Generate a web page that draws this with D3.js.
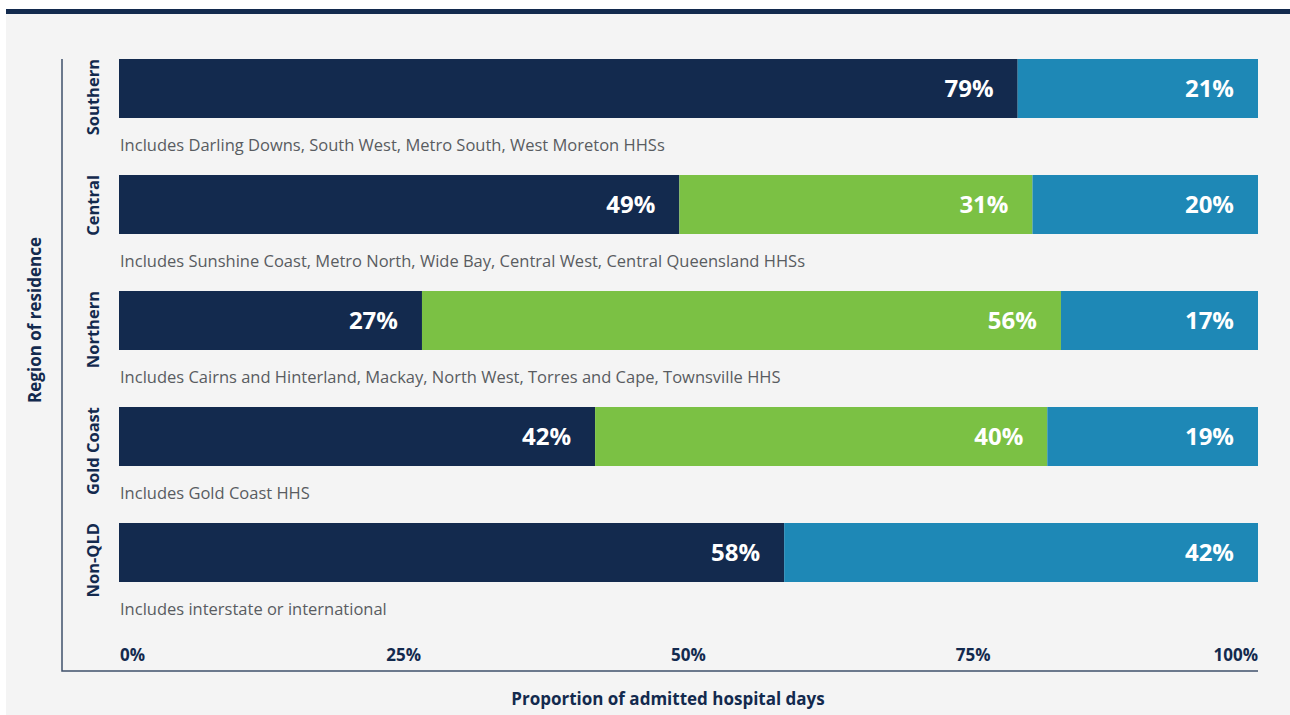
<!DOCTYPE html>
<html>
<head>
<meta charset="utf-8">
<script src="https://cdn.jsdelivr.net/npm/d3@7"></script>
<style>
  body { margin: 0; background: #ffffff; }
  svg { display: block; font-family: "Open Sans", sans-serif; }
</style>
</head>
<body>
<svg id="chart"></svg>
<script>
/* Regions and their notes. */
const regions = ["Southern", "Central", "Northern", "Gold Coast", "Non-QLD"]
const notes = [
  "Includes Darling Downs, South West, Metro South, West Moreton HHSs",
  "Includes Sunshine Coast, Metro North, Wide Bay, Central West, Central Queensland HHSs",
  "Includes Cairns and Hinterland, Mackay, North West, Torres and Cape, Townsville HHS",
  "Includes Gold Coast HHS",
  "Includes interstate or international"
]

/* Share of admitted hospital days per series (percent). */
const seriesA = [78.9, 49.2, 26.6, 41.8, 58.4]
const seriesB = [0, 31.0, 56.1, 39.7, 0]
const seriesC = [21.1, 19.8, 17.3, 18.5, 41.6]

/* Tick labels. */
const xTicks = [0, 25, 50, 75, 100]

/* Colours. */
const navy = "#132a4e"
const colors = ["#132a4e", "#7bc144", "#1e88b6"]

/* Svg size. */
const width = 1290
const height = 715

const svg = d3.select("#chart")
  .attr("width", width)
  .attr("height", height)

/* Grey panel with top border. */
svg.append("rect")
  .attr("x", 6).attr("y", 9)
  .attr("width", width - 6).attr("height", height - 9)
  .attr("fill", "#f4f4f4")

svg.append("rect")
  .attr("x", 6).attr("y", 9)
  .attr("width", width - 6).attr("height", 5)
  .attr("fill", navy)

/* Scales. */
const xScale = d3.scaleLinear()
  .domain([0, 100])
  .range([119, 1258])

const yScale = d3.scaleBand()
  .domain(regions)
  .range([59, 582])
  .paddingInner(0.4914)

/* Stack the data. */
const rows = regions.map((r, i) => ({ region: r, a: seriesA[i], b: seriesB[i], c: seriesC[i] }))
const stacked = d3.stack().keys(["a", "b", "c"])(rows)

const layers = svg.selectAll(".layer")
  .data(stacked)
  .join("g")
  .attr("class", "layer")
  .attr("fill", (d, i) => colors[i])

layers.selectAll("rect")
  .data(d => d.filter(s => s[1] - s[0] > 0))
  .join("rect")
  .attr("x", d => xScale(d[0]))
  .attr("y", d => yScale(d.data.region))
  .attr("width", d => xScale(d[1]) - xScale(d[0]))
  .attr("height", yScale.bandwidth())

/* Value labels. */
layers.selectAll("text")
  .data(d => d.filter(s => s[1] - s[0] > 0))
  .join("text")
  .attr("x", d => xScale(d[1]) - 24)
  .attr("y", d => yScale(d.data.region) + yScale.bandwidth() / 2)
  .attr("dy", "0.36em")
  .attr("text-anchor", "end")
  .attr("fill", "#ffffff")
  .attr("font-size", 24)
  .attr("font-weight", 700)
  .text(d => d3.format(".0f")(d[1] - d[0]) + "%")

/* Notes under each bar. */
svg.selectAll(".note")
  .data(regions)
  .join("text")
  .attr("class", "note")
  .attr("x", 120)
  .attr("y", d => yScale(d) + yScale.bandwidth() + 33)
  .attr("fill", "#595c61")
  .attr("font-size", 16.5)
  .text((d, i) => notes[i])

/* Region labels, rotated. */
svg.selectAll(".region")
  .data(regions)
  .join("text")
  .attr("class", "region")
  .attr("transform", d => `translate(99, ${yScale(d)}) rotate(-90)`)
  .attr("text-anchor", "end")
  .attr("fill", navy)
  .attr("font-size", 16.5)
  .attr("font-weight", 700)
  .text(d => d)

/* Axis lines. */
svg.append("path")
  .attr("d", "M62,59V671H1258")
  .attr("fill", "none")
  .attr("stroke", "#3f506b")
  .attr("stroke-width", 1.5)

/* X tick labels. */
svg.selectAll(".tick")
  .data(xTicks)
  .join("text")
  .attr("class", "tick")
  .attr("x", d => d === 0 ? xScale(d) + 1 : xScale(d))
  .attr("y", 661)
  .attr("text-anchor", d => d === 0 ? "start" : d === 100 ? "end" : "middle")
  .attr("fill", navy)
  .attr("font-size", 17)
  .attr("font-weight", 700)
  .text(d => d + "%")

/* Axis titles. */
svg.append("text")
  .attr("x", 668)
  .attr("y", 705)
  .attr("text-anchor", "middle")
  .attr("fill", navy)
  .attr("font-size", 17)
  .attr("font-weight", 700)
  .text("Proportion of admitted hospital days")

svg.append("text")
  .attr("transform", "translate(41, 320) rotate(-90)")
  .attr("text-anchor", "middle")
  .attr("fill", navy)
  .attr("font-size", 17)
  .attr("font-weight", 700)
  .text("Region of residence")
</script>
</body>
</html>
